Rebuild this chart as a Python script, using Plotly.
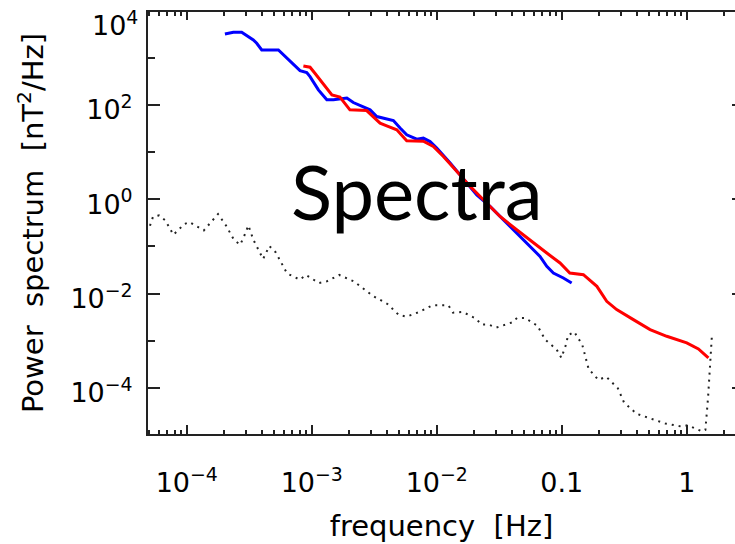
import plotly.graph_objects as go

# ---- data (frequency in Hz, power in nT^2/Hz) ----
blue_freq = [2.02e-4, 2.36e-4, 2.75e-4, 2.93e-4, 3.41e-4, 3.63e-4, 3.98e-4, 5.41e-4,
             5.93e-4, 8.06e-4, 9.12e-4, 9.69e-4, 1.13e-3, 1.32e-3, 1.49e-3, 1.91e-3,
             2.15e-3, 2.59e-3, 2.93e-3, 3.31e-3, 3.98e-3, 4.50e-3, 5.09e-3, 5.75e-3,
             6.92e-3, 7.81e-3, 8.84e-3, 1.0e-2, 1.28e-2, 1.74e-2, 2.09e-2, 2.67e-2,
             3.41e-2, 4.36e-2, 5.25e-2, 6.70e-2, 7.59e-2, 8.57e-2, 0.103, 0.120]
blue_power = [3180, 3460, 3460, 3135, 2375, 2023, 1458, 1458,
              1143, 532, 483, 397, 208, 128, 128, 139,
              112, 92.1, 78.4, 56.6, 50.6, 46.6, 32.2, 23.2,
              18.8, 19.7, 16.7, 12.1, 5.84, 2.20, 1.24, 0.704,
              0.368, 0.193, 0.118, 0.0615, 0.0378, 0.0274, 0.0215, 0.0168]

red_freq = [8.57e-4, 9.69e-4, 1.06e-3, 1.28e-3, 1.45e-3, 1.68e-3, 1.91e-3, 2.02e-3,
            2.75e-3, 3.11e-3, 3.52e-3, 3.98e-3, 4.79e-3, 5.75e-3, 7.81e-3, 9.39e-3,
            1.13e-2, 1.45e-2, 1.85e-2, 2.36e-2, 3.21e-2, 4.36e-2, 5.93e-2, 7.59e-2,
            9.69e-2, 0.116, 0.149, 0.191, 0.229, 0.275, 0.374, 0.509,
            0.692, 1.0, 1.24, 1.36, 1.49]
red_power = [669, 628, 469, 244, 163, 146, 92.1, 78.4,
             75.8, 56.6, 41.0, 36.0, 29.6, 17.3, 17.0, 13.1,
             8.04, 3.87, 1.87, 0.976, 0.432, 0.226, 0.118, 0.0727,
             0.0446, 0.0274, 0.0252, 0.0143, 0.00687, 0.00459, 0.00282, 0.00173,
             0.00125, 9.06e-4, 6.76e-4, 5.37e-4, 4.36e-4]

noise_freq = [5.08e-5, 5.37e-5, 6.00e-5, 6.74e-5, 7.82e-5, 9.57e-5, 1.05e-4, 1.37e-4,
              1.78e-4, 2.06e-4, 2.39e-4, 2.68e-4, 2.94e-4, 3.11e-4, 3.41e-4, 4.08e-4,
              4.58e-4, 5.15e-4, 6.34e-4, 8.02e-4, 9.0e-4, 1.14e-3, 1.32e-3, 1.66e-3,
              2.17e-3, 3.09e-3, 4.03e-3, 4.97e-3, 5.75e-3, 7.26e-3, 9.22e-3, 1.24e-2,
              1.35e-2, 1.61e-2, 2.04e-2, 2.29e-2, 2.59e-2, 3.0e-2, 4.03e-2, 4.39e-2,
              5.08e-2, 6.38e-2, 7.39e-2, 9.12e-2, 9.93e-2, 0.109, 0.112, 0.126,
              0.146, 0.164, 0.196, 0.227, 0.281, 0.315, 0.398, 0.521,
              0.674, 0.905, 1.02, 1.33, 1.41, 1.48, 1.59]
noise_power = [0.275, 0.426, 0.454, 0.356, 0.177, 0.299, 0.329, 0.219,
               0.486, 0.279, 0.137, 0.109, 0.189, 0.279, 0.139, 0.0542,
               0.102, 0.0749, 0.0269, 0.0198, 0.0249, 0.0168, 0.0182, 0.0249,
               0.0182, 8.93e-3, 6.05e-3, 3.54e-3, 3.26e-3, 4.10e-3, 5.65e-3, 5.65e-3,
               3.96e-3, 4.10e-3, 3.00e-3, 2.21e-3, 2.21e-3, 1.91e-3, 2.47e-3, 3.06e-3,
               3.06e-3, 2.10e-3, 1.05e-3, 6.53e-4, 4.36e-4, 8.87e-4, 1.31e-3, 1.55e-3,
               8.21e-4, 2.55e-4, 1.49e-4, 1.73e-4, 9.9e-5, 4.93e-5, 2.84e-5, 2.26e-5,
               1.77e-5, 1.53e-5, 1.63e-5, 1.20e-5, 1.30e-5, 6.2e-5, 1.31e-3]

x_tickvals = [1e-4, 1e-3, 1e-2, 0.1, 1]
x_ticktext = ["10<sup>−4</sup>", "10<sup>−3</sup>", "10<sup>−2</sup>", "0.1", "1"]
y_tickvals = [1e2, 1, 1e-2, 1e-4]
y_ticktext = ["10<sup>2</sup>", "10<sup>0</sup>", "10<sup>−2</sup>", "10<sup>−4</sup>"]
y_minor_vals = [1e3, 1e1, 1e-1, 1e-3]
x_minor_vals = [m * 10.0 ** e for e in range(-5, 1) for m in range(2, 10)]

X_RANGE = [-4.31, 0.386]
Y_RANGE = [-4.974, 3.968]
FONT = "DejaVu Sans"
AXC = "#222222"

fig = go.Figure()
fig.add_trace(go.Scatter(x=noise_freq, y=noise_power, mode="lines",
                         line=dict(color="#222222", width=2, dash="2px,5px"),
                         showlegend=False, hoverinfo="skip"))
fig.add_trace(go.Scatter(x=blue_freq, y=blue_power, mode="lines",
                         line=dict(color="#0000FF", width=3),
                         showlegend=False))
fig.add_trace(go.Scatter(x=red_freq, y=red_power, mode="lines",
                         line=dict(color="#FF0000", width=3),
                         showlegend=False))
# invisible helper traces that carry the top tick axis and the right-hand ticks
fig.add_trace(go.Scatter(x=[1e-2], y=[1], xaxis="x2", mode="markers",
                         marker=dict(opacity=0), showlegend=False, hoverinfo="skip"))
fig.add_trace(go.Scatter(x=[1e-2], y=[1], yaxis="y2", mode="markers",
                         marker=dict(opacity=0), showlegend=False, hoverinfo="skip"))

minor_x = dict(tickvals=x_minor_vals, ticks="inside", ticklen=4,
               tickwidth=1.5, tickcolor=AXC, showgrid=False)

fig.update_layout(
    width=735, height=544,
    margin=dict(l=148, r=0, t=12, b=110),
    paper_bgcolor="white", plot_bgcolor="white",
    font=dict(family=FONT, color="black"),
    xaxis=dict(
        type="log", range=X_RANGE, showgrid=False, zeroline=False,
        showline=True, linecolor=AXC, linewidth=2, mirror=False,
        ticks="inside", ticklen=9, tickwidth=1.5, tickcolor=AXC,
        tickvals=x_tickvals, ticktext=x_ticktext,
        tickfont=dict(size=27, family=FONT, color="black"),
        ticklabelstandoff=24,
        minor=minor_x,
        title=dict(text="frequency  [Hz]", font=dict(size=29, family=FONT, color="black"),
                   standoff=18),
    ),
    xaxis2=dict(
        type="log", range=X_RANGE, overlaying="x", side="top", anchor="y",
        showgrid=False, zeroline=False,
        showline=True, linecolor=AXC, linewidth=2,
        ticks="inside", ticklen=8, tickwidth=1.5, tickcolor=AXC,
        tickvals=x_tickvals, showticklabels=False,
        minor=minor_x,
    ),
    yaxis=dict(
        type="log", range=Y_RANGE, showgrid=False, zeroline=False,
        showline=True, linecolor=AXC, linewidth=2, mirror=False,
        ticks="inside", ticklen=12, tickwidth=1.5, tickcolor=AXC,
        tickvals=y_tickvals, ticktext=y_ticktext,
        tickfont=dict(size=27, family=FONT, color="black"),
        ticklabelstandoff=8, ticklabelshift=5,
        minor=dict(tickvals=y_minor_vals, ticks="inside", ticklen=7,
                   tickwidth=1.5, tickcolor=AXC, showgrid=False),
        title=dict(text="Power  spectrum  [nT<sup>2</sup>/Hz]",
                   font=dict(size=29, family=FONT, color="black"), standoff=18),
    ),
    yaxis2=dict(
        type="log", range=Y_RANGE, overlaying="y", side="right",
        showgrid=False, zeroline=False, showline=False,
        ticks="inside", ticklen=3, tickwidth=1.5, tickcolor=AXC,
        tickvals=y_tickvals, showticklabels=False,
    ),
    annotations=[
        dict(text="10<sup>4</sup>", xref="paper", x=0, xanchor="right", xshift=-8,
             yref="y", y=3.72, yanchor="middle", showarrow=False,
             font=dict(size=27, family=FONT, color="black")),
        dict(text="Spectra", xref="paper", x=(417 - 148) / 587, xanchor="center",
             yref="paper", y=(434 - 190) / 422, yanchor="middle", showarrow=False,
             font=dict(size=76, family="Lato", color="black")),
    ],
)

fig.write_html("out.html")
